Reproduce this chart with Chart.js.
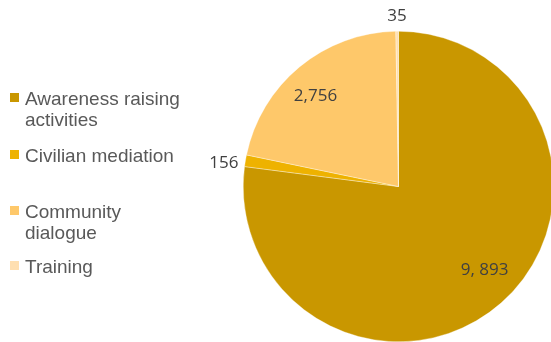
<!DOCTYPE html>
<html>
<head>
<meta charset="utf-8">
<script src="https://cdn.jsdelivr.net/npm/chart.js@4/dist/chart.umd.min.js"></script>
<style>
  html, body { margin: 0; padding: 0; background: #fff; overflow: hidden; }
  body { width: 551px; height: 342px; position: relative; }
  #wrap { position: absolute; left: 0; top: 0; width: 556px; height: 344px; }
  .item { position: absolute; left: 25px; font-family: Arial, "Liberation Sans", sans-serif;
          font-size: 19px; line-height: 21px; color: #595959; }
  .box { position: absolute; left: 10px; width: 9px; height: 9px; }
</style>
</head>
<body>
<div id="wrap"><canvas id="chart" width="556" height="344"></canvas></div>
<div id="legend"></div>
<script>
const categories = ["Awareness raising activities", "Civilian mediation", "Community dialogue", "Training"];
const legendLines = [["Awareness raising", "activities"], ["Civilian mediation"], ["Community", "dialogue"], ["Training"]];
const values = [9893, 156, 2756, 35];
const valueLabels = ["9, 893", "156", "2,756", "35"];
const colors = ["#C99700", "#EEB200", "#FEC86A", "#FFDFB0"];

// legend drawn as html text, left side
const legendTops = [88, 145, 201, 256];
const legend = document.getElementById("legend");
categories.forEach((c, i) => {
  const t = document.createElement("div");
  t.className = "item";
  t.style.top = legendTops[i] + "px";
  t.innerHTML = legendLines[i].join("<br>");
  legend.appendChild(t);
  const b = document.createElement("div");
  b.className = "box";
  b.style.top = (legendTops[i] + 5) + "px";
  b.style.background = colors[i];
  legend.appendChild(b);
});

// where each value label sits: inside (fraction of radius) or outside (px beyond edge), da = angle nudge in degrees
const labelPlace = [{ k: 0.775, da: -4.4 }, { out: 21, da: -2 }, { k: 0.79, da: -3 }, { out: 15, da: 0 }];

const valueLabelPlugin = {
  id: "valueLabels",
  afterDatasetsDraw(chart) {
    const ctx = chart.ctx;
    const meta = chart.getDatasetMeta(0);
    ctx.save();
    ctx.font = '17px "Open Sans", sans-serif';
    ctx.fillStyle = "#404040";
    ctx.textAlign = "center";
    ctx.textBaseline = "middle";
    meta.data.forEach((arc, i) => {
      const p = arc.getProps(["x", "y", "startAngle", "endAngle", "outerRadius"], true);
      const place = labelPlace[i];
      const mid = (p.startAngle + p.endAngle) / 2 + place.da * Math.PI / 180;
      const r = place.k ? p.outerRadius * place.k : p.outerRadius + place.out;
      ctx.fillText(valueLabels[i], p.x + Math.cos(mid) * r, p.y + Math.sin(mid) * r);
    });
    ctx.restore();
  }
};

new Chart(document.getElementById("chart").getContext("2d"), {
  type: "pie",
  data: {
    labels: categories,
    datasets: [{
      data: values,
      backgroundColor: colors,
      borderColor: "rgba(255,255,255,0.7)",
      borderWidth: 0.5,
    }],
  },
  options: {
    responsive: false,
    animation: false,
    layout: { padding: { left: 243, top: 31, right: 2, bottom: 2 } },
    plugins: {
      legend: { display: false },
      tooltip: { enabled: false },
    },
  },
  plugins: [valueLabelPlugin],
});
</script>
</body>
</html>
